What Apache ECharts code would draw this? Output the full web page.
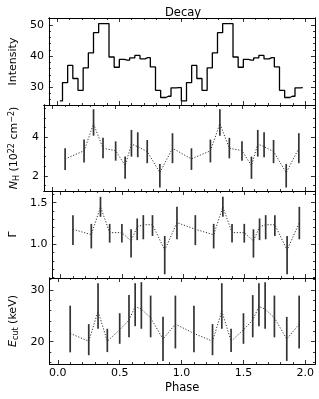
<!DOCTYPE html>
<html>
<head>
<meta charset="utf-8">
<script src="https://cdn.jsdelivr.net/npm/echarts@6/dist/echarts.min.js"></script>
<style>
html,body{margin:0;padding:0;background:#fff;}
#c{width:319px;height:399px;}
</style>
</head>
<body>
<div id="c"></div>
<script>
// ---- data ----
const intensity = [25.6,31.5,37.0,32.8,29.0,36.2,41.0,47.5,50.4,50.4,39.7,36.4,38.9,38.7,39.4,40.2,39.1,39.5,36.5,29.0,26.7,27.1,29.8,29.9,
                   25.6,31.5,37.0,32.8,29.0,36.2,41.0,47.5,50.4,50.4,39.7,36.4,38.9,38.7,39.4,40.2,39.1,39.5,36.5,29.0,26.7,27.1,29.8,29.9];
const phases = [0.1,0.25,0.325,0.4,0.5,0.575,0.625,0.675,0.75,0.85,0.95,1.1,1.25,1.325,1.4,1.5,1.575,1.625,1.675,1.75,1.85,1.95];
const nhVal = [2.88,3.30,4.70,3.43,3.31,2.53,3.65,3.51,3.26,2.17,3.43, 2.88,3.30,4.70,3.43,3.31,2.53,3.65,3.51,3.26,2.17,3.43];
const nhLo  = [2.31,2.70,4.08,2.91,2.79,1.85,3.00,2.97,2.66,1.40,2.66, 2.31,2.70,4.08,2.91,2.79,1.85,3.00,2.97,2.66,1.40,2.66];
const nhHi  = [3.43,3.88,5.45,3.97,3.79,3.00,4.38,4.26,3.86,2.62,4.21, 3.43,3.88,5.45,3.97,3.79,3.00,4.38,4.26,3.86,2.62,4.21];
const gVal = [1.18,1.115,1.45,1.14,1.14,1.04,1.21,1.235,1.235,0.93,1.26, 1.18,1.115,1.45,1.14,1.14,1.04,1.21,1.235,1.235,0.93,1.26];
const gLo  = [0.99,0.95,1.33,1.02,1.02,0.84,1.05,1.06,1.10,0.64,1.06, 0.99,0.95,1.33,1.02,1.02,0.84,1.05,1.06,1.10,0.64,1.06];
const gHi  = [1.35,1.245,1.57,1.245,1.245,1.18,1.31,1.35,1.35,1.10,1.45, 1.35,1.245,1.57,1.245,1.245,1.18,1.31,1.35,1.35,1.10,1.45];
const eVal = [21.6,20.1,25.9,20.1,22.3,24.2,26.8,26.3,24.6,20.5,23.4, 21.6,20.1,25.9,20.1,22.3,24.2,26.8,26.3,24.6,20.5,23.4];
const eLo  = [17.95,17.4,22.5,18.0,19.6,20.85,23.0,22.5,20.85,16.3,18.7, 17.95,17.4,22.5,18.0,19.6,20.85,23.0,22.5,20.85,16.3,18.7];
const eHi  = [26.96,23.4,31.3,22.5,25.5,29.0,31.3,31.5,28.9,24.8,28.9, 26.96,23.4,31.3,22.5,25.5,29.0,31.3,31.5,28.9,24.8,28.9];
const xMajor = [0,0.5,1.0,1.5,2.0];
const yMajor = [[30,40,50],[2,4],[1.0,1.5],[20,30]];

// ---- layout ----
const FONT = 'DejaVu Sans';
const nBins = 24;
const histX = intensity.map((v,i)=> (i+0.5)/nBins);
const xMin = -0.068, xMax = 2.078;
const tops = [18,105,191,278], heights = [87,86,87,86];
const yRange = [[24.3,52.2],[1.22,5.67],[0.595,1.64],[15.7,32.3]];
const yMinorStep = [2,0.5,0.1,2];
const xMinorStep = 0.1;

function minorVals(lo, hi, step, majors){
  const out=[]; const s=Math.ceil(lo/step-1e-9);
  for(let k=s; k*step<=hi+1e-9; k++){
    const v=+(k*step).toFixed(6);
    if(!majors.some(m=>Math.abs(m-v)<1e-6)) out.push(v);
  }
  return out;
}
const xMinor = minorVals(xMin,xMax,xMinorStep,xMajor);

const labelStyle = {color:'#000', fontFamily:FONT, fontSize:11};
const grids=[], xAxes=[], yAxes=[];
for(let g=0; g<4; g++){
  grids.push({left:42, width:273, top:tops[g], height:heights[g], containLabel:false});
  const mk = (pos, vals, len, showLabel, extra) => Object.assign({
    type:'value', gridIndex:g, position:pos, min:xMin, max:xMax,
    axisLine:{show:true, onZero:false, lineStyle:{color:'#000', width:1}},
    axisTick:{show:true, inside:true, length:len, customValues:vals, lineStyle:{color:'#000', width:0.8}},
    axisLabel:{show:showLabel, customValues:vals, margin:4, formatter:v=>v.toFixed(1), ...labelStyle},
    splitLine:{show:false}
  }, extra||{});
  const last = g===3;
  xAxes.push(mk('bottom', xMajor, 4, last, last?{name:'Phase', nameLocation:'middle', nameGap:18, nameTextStyle:{...labelStyle, fontSize:11.5}}:{}));
  xAxes.push(mk('bottom', xMinor, 2, false));
  xAxes.push(mk('top', xMajor, 4, false));
  xAxes.push(mk('top', xMinor, 2, false));

  const [ylo,yhi]=yRange[g];
  const yMin = minorVals(ylo,yhi,yMinorStep[g],yMajor[g]);
  const fmt = g===2 ? (v=>v.toFixed(1)) : (v=>String(Math.round(v)));
  const mky = (pos, vals, len, showLabel, extra) => Object.assign({
    type:'value', gridIndex:g, position:pos, min:ylo, max:yhi,
    axisLine:{show:true, onZero:false, lineStyle:{color:'#000', width:1}},
    axisTick:{show:true, inside:true, length:len, customValues:vals, lineStyle:{color:'#000', width:0.8}},
    axisLabel:{show:showLabel, customValues:vals, margin:5, formatter:fmt, ...labelStyle},
    splitLine:{show:false}
  }, extra||{});
  const names = [
    {name:'Intensity', gap:24},
    {name:'{i|N}{sub|H} (10{sup|22} cm{sup|−2})', gap:17},
    {name:'Γ', gap:28},
    {name:'{i|E}{sub|cut} (keV)', gap:25}
  ];
  const rich = {
    i:{fontFamily:FONT, fontSize:11, fontStyle:'italic', color:'#000'},
    sub:{fontFamily:FONT, fontSize:8, color:'#000', verticalAlign:'bottom', padding:[4,0,0,0]},
    sup:{fontFamily:FONT, fontSize:8, color:'#000', verticalAlign:'top', padding:[0,0,5,0]}
  };
  yAxes.push(mky('left', yMajor[g], 4, true, {name:names[g].name, nameLocation:'middle', nameGap:names[g].gap, nameRotate:90,
     nameTextStyle:{...labelStyle, fontSize:11, rich:rich}}));
  yAxes.push(mky('left', yMin, 2, false));
  yAxes.push(mky('right', yMajor[g], 4, false));
  yAxes.push(mky('right', yMin, 2, false));
}

function errSeries(g, lo, hi){
  return {
    type:'custom', xAxisIndex:4*g, yAxisIndex:4*g,
    data: phases.map((p,i)=>[p, lo[i], hi[i]]),
    encode:{x:0, y:[1,2]},
    renderItem:(params, api)=>{
      const a = api.coord([api.value(0), api.value(1)]);
      const b = api.coord([api.value(0), api.value(2)]);
      return {type:'line', shape:{x1:a[0], y1:a[1], x2:b[0], y2:b[1]}, style:{stroke:'#333', lineWidth:1.7}};
    },
    z:3
  };
}
function dotSeries(g, vals){
  return {
    type:'line', xAxisIndex:4*g, yAxisIndex:4*g,
    data: phases.map((p,i)=>[p, vals[i]]),
    symbol:'none', lineStyle:{color:'#333', width:1, type:[1.2,1.7]}, z:2, animation:false
  };
}

const option = {
  animation:false,
  backgroundColor:'#fff',
  title:{text:'Decay', left:178, textAlign:'center', top:2, textStyle:{fontFamily:FONT, fontSize:11.5, fontWeight:'normal', color:'#000'}},
  grid: grids, xAxis: xAxes, yAxis: yAxes,
  series: [
    {type:'line', xAxisIndex:0, yAxisIndex:0, step:'middle', symbol:'none',
     data: histX.map((x,i)=>[x, intensity[i]]), lineStyle:{color:'#000', width:1.3}},
    errSeries(1, nhLo, nhHi), dotSeries(1, nhVal),
    errSeries(2, gLo, gHi), dotSeries(2, gVal),
    errSeries(3, eLo, eHi), dotSeries(3, eVal)
  ]
};
const chart = echarts.init(document.getElementById('c'), null, {renderer:'canvas'});
chart.setOption(option);
</script>
</body>
</html>
